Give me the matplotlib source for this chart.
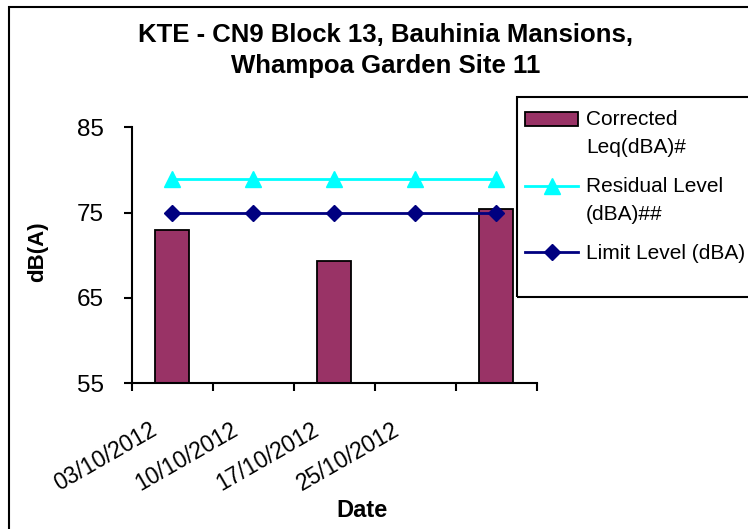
import matplotlib.pyplot as plt
from matplotlib.patches import Rectangle
from matplotlib.transforms import ScaledTranslation, Affine2D
from matplotlib.legend_handler import HandlerPatch, HandlerLine2D
import numpy as np

plt.rcParams['font.family'] = ['Liberation Sans', 'DejaVu Sans']

dates = ['03/10/2012', '10/10/2012', '17/10/2012', '25/10/2012', '']
corrected = [73.0, np.nan, 69.3, np.nan, 75.4]
residual = [78.9, 78.9, 78.9, 78.9, 78.9]
limit = [75, 75, 75, 75, 75]

W, H = 748, 529
SHIFT = 10.6  # points: puts legend handle beside the first text line


class FirstLinePatch(HandlerPatch):
    def create_artists(self, legend, orig_handle, xdescent, ydescent,
                       width, height, fontsize, trans):
        return super().create_artists(legend, orig_handle, xdescent, ydescent,
                                      width, height, fontsize,
                                      Affine2D().translate(0, SHIFT) + trans)


class FirstLineLine(HandlerLine2D):
    def create_artists(self, legend, orig_handle, xdescent, ydescent,
                       width, height, fontsize, trans):
        return super().create_artists(legend, orig_handle, xdescent, ydescent,
                                      width, height, fontsize,
                                      Affine2D().translate(0, SHIFT) + trans)


fig = plt.figure(figsize=(W / 100, H / 100), dpi=100)
ax = fig.add_axes([131.7 / W, 1 - 383.3 / H, 405.3 / W, 256 / H])

x = np.arange(len(dates))
bars = ax.bar(x, corrected, width=0.42, color='#993366', edgecolor='black',
              linewidth=1.3, zorder=2)
bar_handle = bars.patches[0]
res_line, = ax.plot(x, residual, color='#00FFFF', lw=2, marker='^', ms=11,
                    zorder=3)
lim_line, = ax.plot(x, limit, color='#000080', lw=2, marker='D', ms=8,
                    zorder=4)

ax.set_xlim(-0.5, len(dates) - 0.5)
ax.set_ylim(55, 85)
ax.set_yticks([55, 65, 75, 85])
ax.set_xticks(np.arange(-0.5, len(dates), 1))
ax.set_xticklabels([])
ax.set_xticks(x, minor=True)
ax.set_xticklabels(dates, minor=True, rotation=30, ha='right',
                   rotation_mode='anchor', fontsize=16.5)
ax.tick_params(axis='x', which='minor', length=0, pad=25)
ax.tick_params(axis='both', which='major', length=6, width=1.5,
               labelsize=17.5, direction='out')
ax.tick_params(axis='y', pad=14)
off = ScaledTranslation(-0.23, 0, fig.dpi_scale_trans)
for lab in ax.get_xticklabels(minor=True):
    lab.set_transform(lab.get_transform() + off)

for s in ['top', 'right']:
    ax.spines[s].set_visible(False)
for s in ['left', 'bottom']:
    ax.spines[s].set_linewidth(1.5)

ax.set_ylabel('dB(A)', fontsize=16, fontweight='bold')
ax.yaxis.set_label_coords(-0.207, 0.513)
ax.set_xlabel('Date', fontsize=17, fontweight='bold')
ax.xaxis.set_label_coords(0.567, -0.453)

fig.text(386 / W, 1 - 41.7 / H, 'KTE - CN9 Block 13, Bauhinia Mansions,',
         ha='center', va='baseline', fontsize=18.5, fontweight='bold')
fig.text(386 / W, 1 - 73.3 / H, 'Whampoa Garden Site 11',
         ha='center', va='baseline', fontsize=18.5, fontweight='bold')

leg = fig.legend([bar_handle, res_line, lim_line],
                 ['Corrected\nLeq(dBA)#', 'Residual Level\n(dBA)##',
                  'Limit Level (dBA)'],
                 handler_map={bar_handle: FirstLinePatch(),
                              res_line: FirstLineLine(),
                              lim_line: HandlerLine2D()},
                 loc='upper left', bbox_to_anchor=(525 / W, 1 - 110 / H),
                 bbox_transform=fig.transFigure, frameon=False, fontsize=15,
                 handlelength=2.55, handletextpad=0.38, labelspacing=0.98,
                 borderaxespad=0, borderpad=0)
for t in leg.get_texts():
    t.set_linespacing(1.58)

fig.patches.append(Rectangle((517 / W, 1 - 297 / H), 0.5, 200 / H,
                             transform=fig.transFigure, fill=False,
                             lw=1.5, edgecolor='black'))
fig.patches.append(Rectangle((9 / W, -0.1), 1.2, 1.1 - 7 / H,
                             transform=fig.transFigure, fill=False,
                             lw=1.5, edgecolor='black'))

fig.savefig('out.png', dpi=100)
